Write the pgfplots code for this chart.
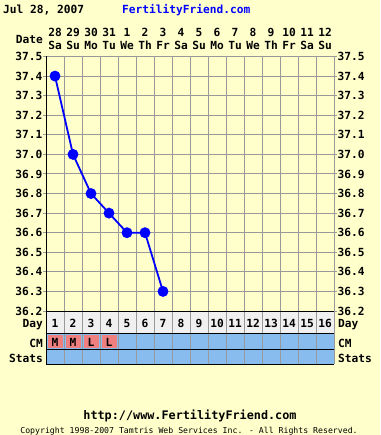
\documentclass[border=0pt]{standalone}
\usepackage{fontspec}
\setmainfont{DejaVu Sans Mono}
\usepackage{pgfplots}
\pgfplotsset{compat=1.18}
\definecolor{bgy}{HTML}{FFFFCC}
\definecolor{gridg}{HTML}{999999}
\definecolor{rowblue}{HTML}{88BBEE}
\definecolor{cmpink}{HTML}{F08080}
\definecolor{dayrow}{HTML}{F0F0F0}
\definecolor{ffblue}{HTML}{0000FF}
\newcommand\tf{\fontsize{11.2}{12}\selectfont\bfseries}
\begin{document}
\begin{tikzpicture}[x=1pt,y=1pt]
\fill[bgy] (0,0) rectangle (380,-435);
% header
\node[anchor=base west,font=\tf,inner sep=0] at (3,-13.5) {Jul 28, 2007};
\node[anchor=base west,font=\tf,text=ffblue,inner sep=0] at (122,-13.5) {FertilityFriend.com};
\node[anchor=base east,font=\tf,inner sep=0] at (43,-43.3) {Date};
\foreach \d/\w [count=\i] in {28/Sa,29/Su,30/Mo,31/Tu,1/We,2/Th,3/Fr,4/Sa,5/Su,6/Mo,7/Tu,8/We,9/Th,10/Fr,11/Sa,12/Su}{
  \node[anchor=base,font=\tf,inner sep=0] at ({46+18*(\i-0.5)},-36.7) {\d};
  \node[anchor=base,font=\tf,inner sep=0] at ({46+18*(\i-0.5)},-50) {\w};
}
% rows backgrounds
\fill[dayrow] (46,-311) rectangle (334,-333);
\fill[rowblue] (46,-333) rectangle (334,-364);
\foreach \i/\c in {1/M,2/M,3/L,4/L}{
  \fill[cmpink] ({46+18*(\i-1)+1.5},-334.5) rectangle ({46+18*\i-1.2},-348);
  \node[anchor=base,font=\tf,inner sep=0] at ({46+18*(\i-0.5)},-346) {\c};
}
\foreach \i in {1,...,16}{
  \node[anchor=base,font=\tf,inner sep=0] at ({46+18*(\i-0.5)},-327) {\i};
}
\foreach \t/\yy in {Day/327,CM/347,Stats/362}{
  \node[anchor=base east,font=\tf,inner sep=0] at (43,-\yy) {\t};
  \node[anchor=base west,font=\tf,inner sep=0] at (338,-\yy) {\t};
}
\begin{axis}[
  at={(46pt,-364pt)}, anchor=south west,
  scale only axis, width=288pt, height=307.5pt,
  xmin=0.5, xmax=16.5, ymin=35.9293, ymax=37.5,
  enlargelimits=false, clip=false,
  axis line style={draw=none},
  xtick={0.5,1.5,...,16.5}, xticklabels={}, xtick style={draw=none},
  xmajorgrids, ymajorgrids,
  grid style={gridg, line width=1pt},
  ytick={36.2,36.3,36.4,36.5,36.6,36.7,36.8,36.9,37.0,37.1,37.2,37.3,37.4,37.5},
  ytick pos=both, yticklabel pos=left,
  major tick length=3pt, tick align=outside,
  ytick style={gridg, line width=1pt},
  yticklabel style={font=\tf, inner sep=0.5pt,
    /pgf/number format/fixed, /pgf/number format/fixed zerofill,
    /pgf/number format/precision=1, /pgf/number format/assume math mode=true},
]
\addplot[ffblue, line width=1.8pt, mark=*, mark size=4.5pt, mark options={fill=ffblue, draw=ffblue}]
  coordinates {(1,37.4)(2,37.0)(3,36.8)(4,36.7)(5,36.6)(6,36.6)(7,36.3)};
\end{axis}
\begin{axis}[
  at={(46pt,-364pt)}, anchor=south west,
  scale only axis, width=288pt, height=307.5pt,
  xmin=0.5, xmax=16.5, ymin=35.9293, ymax=37.5,
  enlargelimits=false,
  axis line style={draw=none},
  xtick=\empty,
  ytick={36.2,36.3,36.4,36.5,36.6,36.7,36.8,36.9,37.0,37.1,37.2,37.3,37.4,37.5},
  ytick pos=right, yticklabel pos=right, ytick style={draw=none},
  yticklabel style={font=\tf,
    /pgf/number format/fixed, /pgf/number format/fixed zerofill,
    /pgf/number format/precision=1, /pgf/number format/assume math mode=true},
]
\end{axis}
% black row lines and left axis
\foreach \yy in {311,333,349,364}{
  \draw[black, line width=1pt] (46,-\yy) -- (334,-\yy);
}
\draw[black, line width=1pt] (46.5,-56.5) -- (46.5,-364.5);
% footer
\node[anchor=base,font=\fontsize{11.8}{12}\selectfont\bfseries,inner sep=0] at (190,-419) {http://www.FertilityFriend.com};
\node[anchor=base,font=\fontsize{8.2}{9}\selectfont,inner sep=0] at (189,-433) {Copyright 1998-2007 Tamtris Web Services Inc. - All Rights Reserved.};
\pgfresetboundingbox
\useasboundingbox (0,0) rectangle (380,-435);
\end{tikzpicture}
\end{document}
